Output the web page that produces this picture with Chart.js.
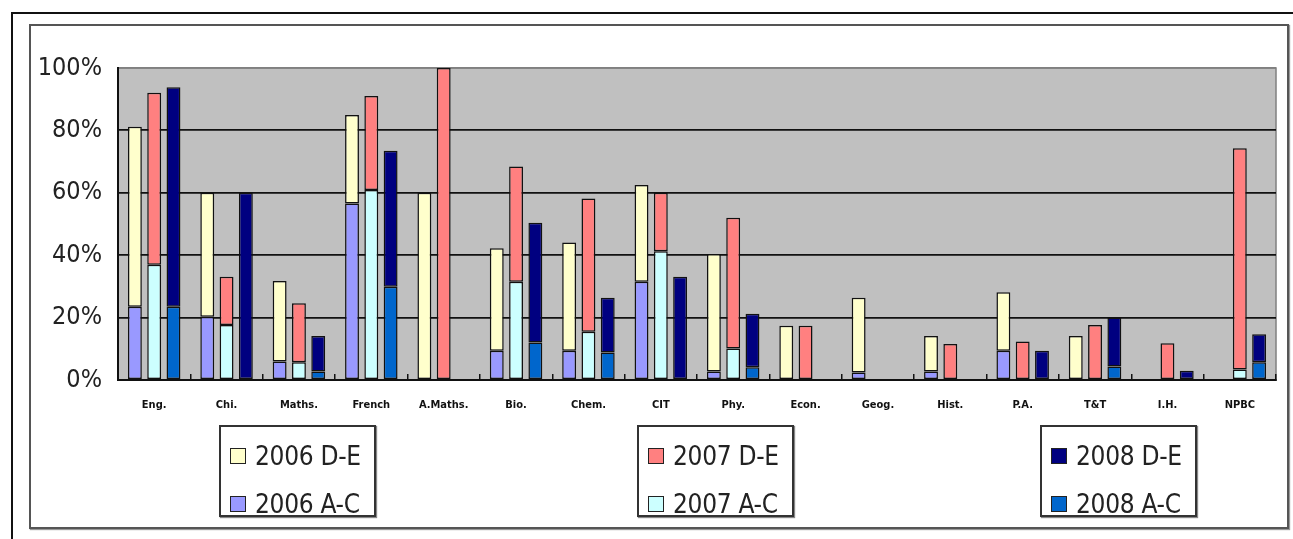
<!DOCTYPE html>
<html>
<head>
<meta charset="utf-8">
<script src="https://cdn.jsdelivr.net/npm/chart.js@4/dist/chart.umd.min.js"></script>
<style>
  html, body { margin:0; padding:0; background:#fff; }
  #page { position:relative; width:1293px; height:539px; overflow:hidden; }
  #outer { position:absolute; left:11px; top:12px; width:1300px; height:560px;
           border-left:2px solid #111; border-top:2px solid #111; }
  #inner { position:absolute; left:29px; top:24px; width:1256px; height:501px;
           border:2px solid #555; box-shadow:1px 1px 1px #999; }
  #chart { position:absolute; left:0; top:0; }
  .legend { position:absolute; top:425px; width:153px; height:88px; background:#fff;
            border:2px solid #333; box-shadow:1px 1px 1px #888; }
  .row { position:absolute; left:9px; height:28px; display:flex; align-items:center;
         font-family:"DejaVu Sans Condensed", "Liberation Sans", sans-serif; font-size:26px;
         letter-spacing:-0.3px; color:#222; white-space:nowrap; }
  .sw { width:14px; height:14px; border:1.5px solid #222; margin-right:9px; flex:none; }
</style>
</head>
<body>
<div id="page">
  <div id="outer"></div>
  <div id="inner"></div>
  <canvas id="chart" width="1293" height="539"></canvas>
</div>
<script>
const categories = ["Eng.","Chi.","Maths.","French","A.Maths.","Bio.","Chem.","CIT",
                    "Phy.","Econ.","Geog.","Hist.","P.A.","T&T","I.H.","NPBC"];

// A-C share (bottom part) and D-E share (top part) of each bar, in %
const ac2006 = [23.5, 20.3, 5.9, 56.6, null, 9.4, 9.4, 31.5, 2.7, null, 2.4, 2.7, 9.4, null, null, null];
const de2006 = [57.7, 39.7, 25.8, 28.3, 60, 32.8, 34.7, 31.0, 37.7, 17.4, 24.0, 11.4, 18.7, 14.1, null, null];
const ac2007 = [36.9, 17.6, 5.7, 60.9, null, 31.5, 15.5, 41.3, 10.1, null, null, null, null, null, null, 3.4];
const de2007 = [55.2, 15.5, 18.9, 30.1, 100, 36.9, 42.7, 18.7, 41.9, 17.4, null, 11.5, 12.3, 17.6, 11.8, 70.9];
const ac2008 = [23.5, null, 2.7, 29.9, null, 12.0, 8.8, null, 4.1, null, null, null, null, 4.3, null, 5.7];
const de2008 = [70.3, 60, 11.4, 43.6, null, 38.4, 17.6, 33.1, 17.1, null, null, null, 9.4, 15.7, 3.0, 9.0];

const seriesLabels = ["2006 D-E","2006 A-C","2007 D-E","2007 A-C","2008 D-E","2008 A-C"];
const seriesColors = ["#FFFFCC","#9999FF","#FF8080","#CCFFFF","#000080","#0066CC"];

function ds(i, data, stack) {
  return { label:seriesLabels[i], data, stack, backgroundColor:seriesColors[i],
           borderColor:"#111", borderWidth:1.5, borderSkipped:false,
           categoryPercentage:0.8, barPercentage:0.72 };
}

const plotBg = {
  id:"plotBg",
  beforeDraw(c) {
    const a = c.chartArea, ctx = c.ctx;
    ctx.save();
    ctx.fillStyle = "#C0C0C0";
    ctx.fillRect(a.left, a.top, a.width, a.height);
    ctx.strokeStyle = "#808080";
    ctx.lineWidth = 1.5;
    ctx.strokeRect(a.left, a.top, a.width, a.height);
    ctx.restore();
  }
};

new Chart(document.getElementById("chart"), {
  type:"bar",
  data:{
    labels:categories,
    datasets:[
      ds(1, ac2006, "2006"), ds(0, de2006, "2006"),
      ds(3, ac2007, "2007"), ds(2, de2007, "2007"),
      ds(5, ac2008, "2008"), ds(4, de2008, "2008")
    ]
  },
  options:{
    responsive:false,
    animation:false,
    layout:{ padding:{ left:0, top:68, right:17, bottom:0 } },
    plugins:{ legend:{ display:false }, tooltip:{ enabled:false } },
    scales:{
      x:{
        stacked:true,
        grid:{ offset:true, drawOnChartArea:false, tickLength:-6, color:"#111", lineWidth:1.5 },
        border:{ color:"#111", width:2 },
        ticks:{ autoSkip:false, maxRotation:0, padding:25, color:"#111",
                font:{ family:"'DejaVu Sans Condensed', 'Liberation Sans', sans-serif", size:11, weight:"bold" } },
        afterFit:s => { s.height = 159; }
      },
      y:{
        stacked:true, min:0, max:100,
        grid:{ drawTicks:false, lineWidth:1.8,
               color:ctx => ctx.tick.value === 100 ? "#808080" : "#111" },
        border:{ color:"#111", width:2 },
        ticks:{ stepSize:20, padding:16, color:"#222",
                font:{ family:"'DejaVu Sans Condensed', 'Liberation Sans', sans-serif", size:25 },
                callback:v => v + "%" },
        afterFit:s => { s.width = 118; }
      }
    }
  },
  plugins:[plotBg]
});

// three boxed legends, one per year
const legendLeft = [219, 637, 1040];
for (let y = 0; y < 3; y++) {
  const box = document.createElement("div");
  box.className = "legend";
  box.style.left = legendLeft[y] + "px";
  [0, 1].forEach((k, r) => {
    const i = y * 2 + k;
    const row = document.createElement("div");
    row.className = "row";
    row.style.top = (15 + r * 48) + "px";
    row.innerHTML = '<span class="sw" style="background:' + seriesColors[i] + '"></span>' + seriesLabels[i];
    box.appendChild(row);
  });
  document.getElementById("page").appendChild(box);
}
</script>
</body>
</html>
